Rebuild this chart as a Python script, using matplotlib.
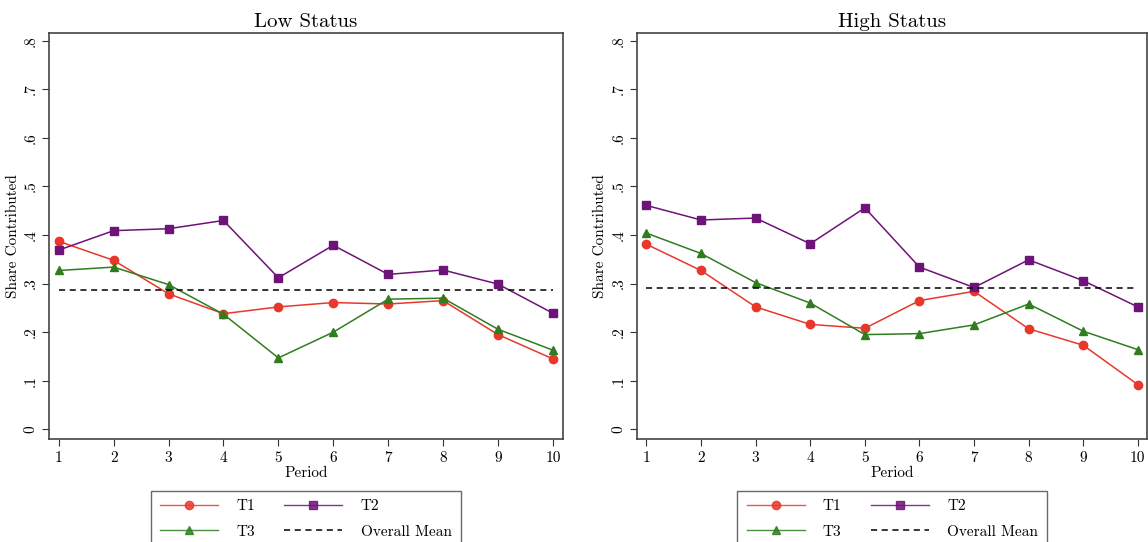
import matplotlib
matplotlib.use("Agg")
import matplotlib.pyplot as plt
from matplotlib.lines import Line2D

plt.rcParams['font.family'] = ['cmr10', 'DejaVu Serif']
plt.rcParams['axes.formatter.use_mathtext'] = True

periods = [1, 2, 3, 4, 5, 6, 7, 8, 9, 10]

# Low status
low_t1 = [0.387, 0.348, 0.279, 0.238, 0.252, 0.261, 0.258, 0.265, 0.195, 0.145]
low_t2 = [0.369, 0.409, 0.413, 0.430, 0.312, 0.379, 0.319, 0.328, 0.299, 0.239]
low_t3 = [0.327, 0.334, 0.298, 0.237, 0.147, 0.200, 0.268, 0.270, 0.206, 0.163]
low_mean = 0.287

# High status
high_t1 = [0.381, 0.327, 0.252, 0.216, 0.208, 0.265, 0.284, 0.207, 0.173, 0.092]
high_t2 = [0.461, 0.431, 0.435, 0.382, 0.456, 0.334, 0.292, 0.349, 0.306, 0.252]
high_t3 = [0.404, 0.362, 0.302, 0.260, 0.195, 0.197, 0.215, 0.258, 0.202, 0.164]
high_mean = 0.291

yticks = [0, 0.1, 0.2, 0.3, 0.4, 0.5, 0.6, 0.7, 0.8]
ytick_labels = ['0', '.1', '.2', '.3', '.4', '.5', '.6', '.7', '.8']

RED = '#e8382b'
PURPLE = '#6e1378'
GREEN = '#2f7d1f'

fig = plt.figure(figsize=(11.48, 5.42), dpi=100)
ax1 = fig.add_axes([0.043, 0.19, 0.447, 0.750])
ax2 = fig.add_axes([0.555, 0.19, 0.4445, 0.750])


def draw(ax, title, t1, t2, t3, mean):
    ax.plot(periods, t1, color=RED, marker='o', ms=6, lw=1.1)
    ax.plot(periods, t2, color=PURPLE, marker='s', ms=6, lw=1.1)
    ax.plot(periods, t3, color=GREEN, marker='^', ms=6, lw=1.1)
    ax.plot([periods[0], periods[-1]], [mean, mean], color='black',
            ls=(0, (4, 3)), lw=1.1)
    ax.set_xlim(0.83, 10.175)
    ax.set_ylim(-0.02, 0.817)
    ax.set_xticks(periods)
    ax.set_xticklabels([str(p) for p in periods], fontsize=11)
    ax.set_yticks(yticks)
    ax.set_yticklabels(ytick_labels, fontsize=11, rotation=90, va='center')
    ax.tick_params(direction='out', length=5, width=0.8, color='#333333')
    ax.set_title(title, fontsize=15, pad=4)
    ax.set_xlabel('Period', fontsize=11, labelpad=1)
    ax.set_ylabel('Share Contributed', fontsize=11, labelpad=3)
    for s in ax.spines.values():
        s.set_color('#444444')
        s.set_linewidth(1.2)

    # legend fills column-wise: T1, T3 | T2, Overall Mean
    handles = [
        Line2D([], [], color=RED, marker='o', ms=6, lw=1.0, alpha=0.85),
        Line2D([], [], color=GREEN, marker='^', ms=6, lw=1.0, alpha=0.85),
        Line2D([], [], color=PURPLE, marker='s', ms=6, lw=1.0, alpha=0.85),
        Line2D([], [], color='black', ls=(0, (4, 3)), lw=1.1),
    ]
    labels = ['T1', 'T3', 'T2', 'Overall Mean']
    leg = ax.legend(handles, labels, ncol=2, loc='upper center',
                    bbox_to_anchor=(0.5, -0.108), fontsize=11,
                    frameon=True, fancybox=False, edgecolor='#444444',
                    handlelength=3.8, columnspacing=1.9, handletextpad=1.2,
                    borderpad=0.6, labelspacing=0.75)
    leg.get_frame().set_linewidth(1.0)


draw(ax1, 'Low Status', low_t1, low_t2, low_t3, low_mean)
draw(ax2, 'High Status', high_t1, high_t2, high_t3, high_mean)

fig.savefig('out.png', dpi=100)
